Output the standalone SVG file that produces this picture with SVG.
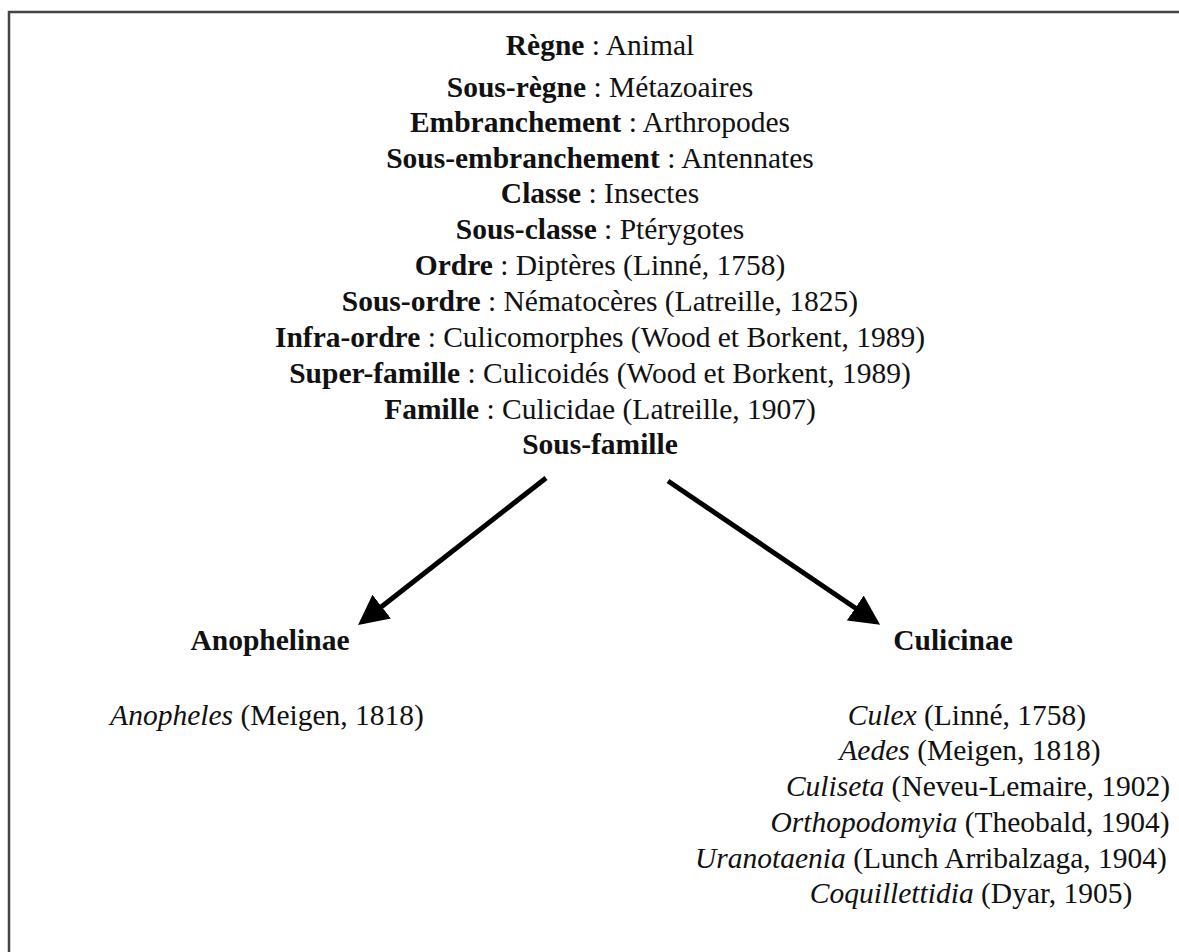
<svg xmlns="http://www.w3.org/2000/svg" width="1179" height="952" viewBox="0 0 1179 952">
<style>
text{font-family:"Liberation Serif","Times New Roman",serif;font-size:29.5px;fill:#111;}
.c{text-anchor:middle;}
.b{font-weight:bold;}
.i{font-style:italic;}
.conn{stroke:#000;stroke-width:5;fill:none;}
</style>
<defs>
<marker id="ah" markerWidth="6" markerHeight="6" refX="5" refY="3" orient="auto" markerUnits="strokeWidth">
<path d="M0,0 L6,3 L0,6 z" fill="#000"/>
</marker>
</defs>
<rect x="0" y="0" width="1179" height="952" fill="#fff"/>
<rect x="9" y="12" width="1200" height="1000" fill="none" stroke="#444" stroke-width="2.5"/>
<g id="taxonomy">
<text class="c" x="600" y="55"><tspan class="b">Règne</tspan> : Animal</text>
<text class="c" x="600" y="97"><tspan class="b">Sous-règne</tspan> : Métazoaires</text>
<text class="c" x="600" y="132"><tspan class="b">Embranchement</tspan> : Arthropodes</text>
<text class="c" x="600" y="168"><tspan class="b">Sous-embranchement</tspan> : Antennates</text>
<text class="c" x="600" y="203"><tspan class="b">Classe</tspan> : Insectes</text>
<text class="c" x="600" y="239"><tspan class="b">Sous-classe</tspan> : Ptérygotes</text>
<text class="c" x="600" y="275"><tspan class="b">Ordre</tspan> : Diptères (Linné, 1758)</text>
<text class="c" x="600" y="311"><tspan class="b">Sous-ordre</tspan> : Nématocères (Latreille, 1825)</text>
<text class="c" x="600" y="347"><tspan class="b">Infra-ordre</tspan> : Culicomorphes (Wood et Borkent, 1989)</text>
<text class="c" x="600" y="383"><tspan class="b">Super-famille</tspan> : Culicoidés (Wood et Borkent, 1989)</text>
<text class="c" x="600" y="419"><tspan class="b">Famille</tspan> : Culicidae (Latreille, 1907)</text>
</g>
<g id="sous-famille"><text class="c b" x="600" y="454">Sous-famille</text></g>
<g id="anophelinae">
<text class="c b" x="270" y="650">Anophelinae</text>
<text class="c" x="267" y="725"><tspan class="i">Anopheles</tspan> (Meigen, 1818)</text>
</g>
<g id="culicinae">
<text class="c b" x="953" y="650">Culicinae</text>
<text class="c" x="967" y="725"><tspan class="i">Culex</tspan> (Linné, 1758)</text>
<text class="c" x="970" y="760"><tspan class="i">Aedes</tspan> (Meigen, 1818)</text>
<text class="c" x="978" y="796"><tspan class="i">Culiseta</tspan> (Neveu-Lemaire, 1902)</text>
<text class="c" x="970" y="832"><tspan class="i">Orthopodomyia</tspan> (Theobald, 1904)</text>
<text class="c" x="931" y="868"><tspan class="i">Uranotaenia</tspan> (Lunch Arribalzaga, 1904)</text>
<text class="c" x="971" y="903"><tspan class="i">Coquillettidia</tspan> (Dyar, 1905)</text>
</g>
<g id="connectors">
<line class="conn" x1="546" y1="478" x2="362" y2="622" marker-end="url(#ah)"/>
<line class="conn" x1="668" y1="481" x2="876" y2="622" marker-end="url(#ah)"/>
</g>
</svg>
